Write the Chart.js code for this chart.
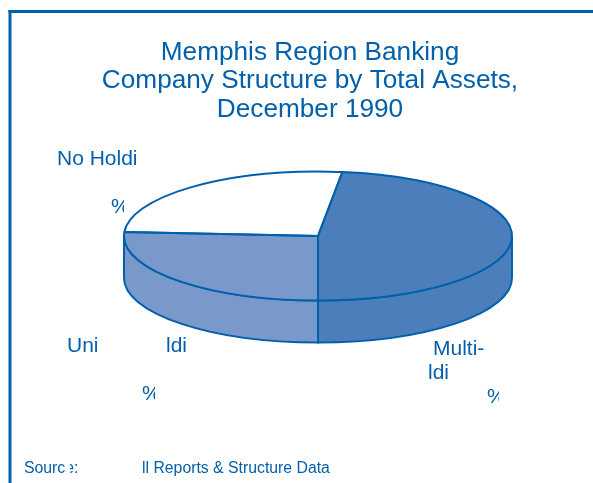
<!DOCTYPE html>
<html>
<head>
<meta charset="utf-8">
<style>html,body{margin:0;padding:0;background:#fff}canvas{display:block}</style>
<script src="https://cdn.jsdelivr.net/npm/chart.js@4"></script>
</head>
<body>
<canvas id="c" width="593" height="483"></canvas>
<script>
const categories = ['Multi-Bank Holding', 'Uni-Bank Holding', 'No Holding'];
const shares = [48, 26, 26];
const sliceColors = ['#4b7ebb', '#7a99cb', '#ffffff'];
const titleLines = ['Memphis Region Banking', 'Company Structure by Total Assets,', 'December 1990'];
const labelTexts = ['No Holdi', '%', 'Uni', 'ldi', '%', 'Multi-', 'ldi', '%'];
const labelX = [57, 111, 67, 166, 142, 433, 428, 487];
const labelY = [165, 213, 352, 352, 400, 355, 379, 403];
const sourceTexts = ['Source:', 'll Reports & Structure Data'];
const sourceX = [24, 142];
const sourceY = 473;
const erasures = [[124, 195, 5, 20], [155, 382, 8, 24], [499, 386, 8, 24], [66, 458, 4, 20], [328, 458, 3, 6]];

const ink = '#0060ab';
const cx = 318, cy = 236, ry = 64.5, depth = 42;

const pie3d = {
  id: 'pie3d',
  beforeDatasetsDraw(chart) {
    const ctx = chart.ctx;
    const arcs = chart.getDatasetMeta(0).data;
    const rx = arcs[0].outerRadius;
    ctx.save();
    ctx.lineWidth = 2;
    ctx.strokeStyle = ink;
    arcs.forEach((a, i) => {
      const s = Math.max(a.startAngle, 0), e = Math.min(a.endAngle, Math.PI);
      if (e <= s) return;
      ctx.beginPath();
      ctx.ellipse(cx, cy, rx, ry, 0, s, e);
      ctx.ellipse(cx, cy + depth, rx, ry, 0, e, s, true);
      ctx.closePath();
      ctx.fillStyle = sliceColors[i];
      ctx.fill();
      ctx.stroke();
    });
    ctx.restore();
    ctx.save();
    ctx.translate(cx, cy);
    ctx.scale(1, ry / rx);
    ctx.translate(-arcs[0].x, -arcs[0].y);
  },
  afterDatasetsDraw(chart) {
    const ctx = chart.ctx;
    ctx.restore();
    const arcs = chart.getDatasetMeta(0).data;
    ctx.save();
    ctx.lineWidth = 2;
    ctx.strokeStyle = ink;
    ctx.lineJoin = 'round';
    arcs.forEach(a => {
      ctx.beginPath();
      ctx.moveTo(cx, cy);
      ctx.ellipse(cx, cy, a.outerRadius, ry, 0, a.startAngle, a.endAngle);
      ctx.closePath();
      ctx.stroke();
    });
    ctx.restore();
  },
  afterDraw(chart) {
    const ctx = chart.ctx;
    ctx.save();
    ctx.fillStyle = ink;
    ctx.fillRect(8.5, 10, 584.5, 3);
    ctx.fillRect(8.5, 10, 3, 473);
    ctx.textBaseline = 'alphabetic';
    ctx.textAlign = 'left';
    ctx.font = '21px "Liberation Sans"';
    labelTexts.forEach((t, i) => ctx.fillText(t, labelX[i], labelY[i]));
    ctx.font = '15.8px "Liberation Sans"';
    sourceTexts.forEach((t, i) => ctx.fillText(t, sourceX[i], sourceY));
    ctx.fillStyle = '#fff';
    erasures.forEach(r => ctx.fillRect(r[0], r[1], r[2], r[3]));
    ctx.restore();
  }
};

new Chart(document.getElementById('c'), {
  type: 'pie',
  data: {
    labels: categories,
    datasets: [{
      data: shares,
      backgroundColor: sliceColors,
      borderWidth: 0,
      radius: 194,
      clip: false
    }]
  },
  options: {
    responsive: false,
    animation: false,
    rotation: 7.2,
    layout: { padding: { left: 27, right: 0, top: 0, bottom: 0 } },
    plugins: {
      legend: { display: false },
      tooltip: { enabled: false },
      title: {
        display: true,
        text: titleLines,
        color: ink,
        font: { family: '"Liberation Sans"', size: 26.2, weight: 'normal', lineHeight: 1.1 },
        padding: { top: 38, bottom: 4 }
      }
    }
  },
  plugins: [pie3d]
});
</script>
</body>
</html>
